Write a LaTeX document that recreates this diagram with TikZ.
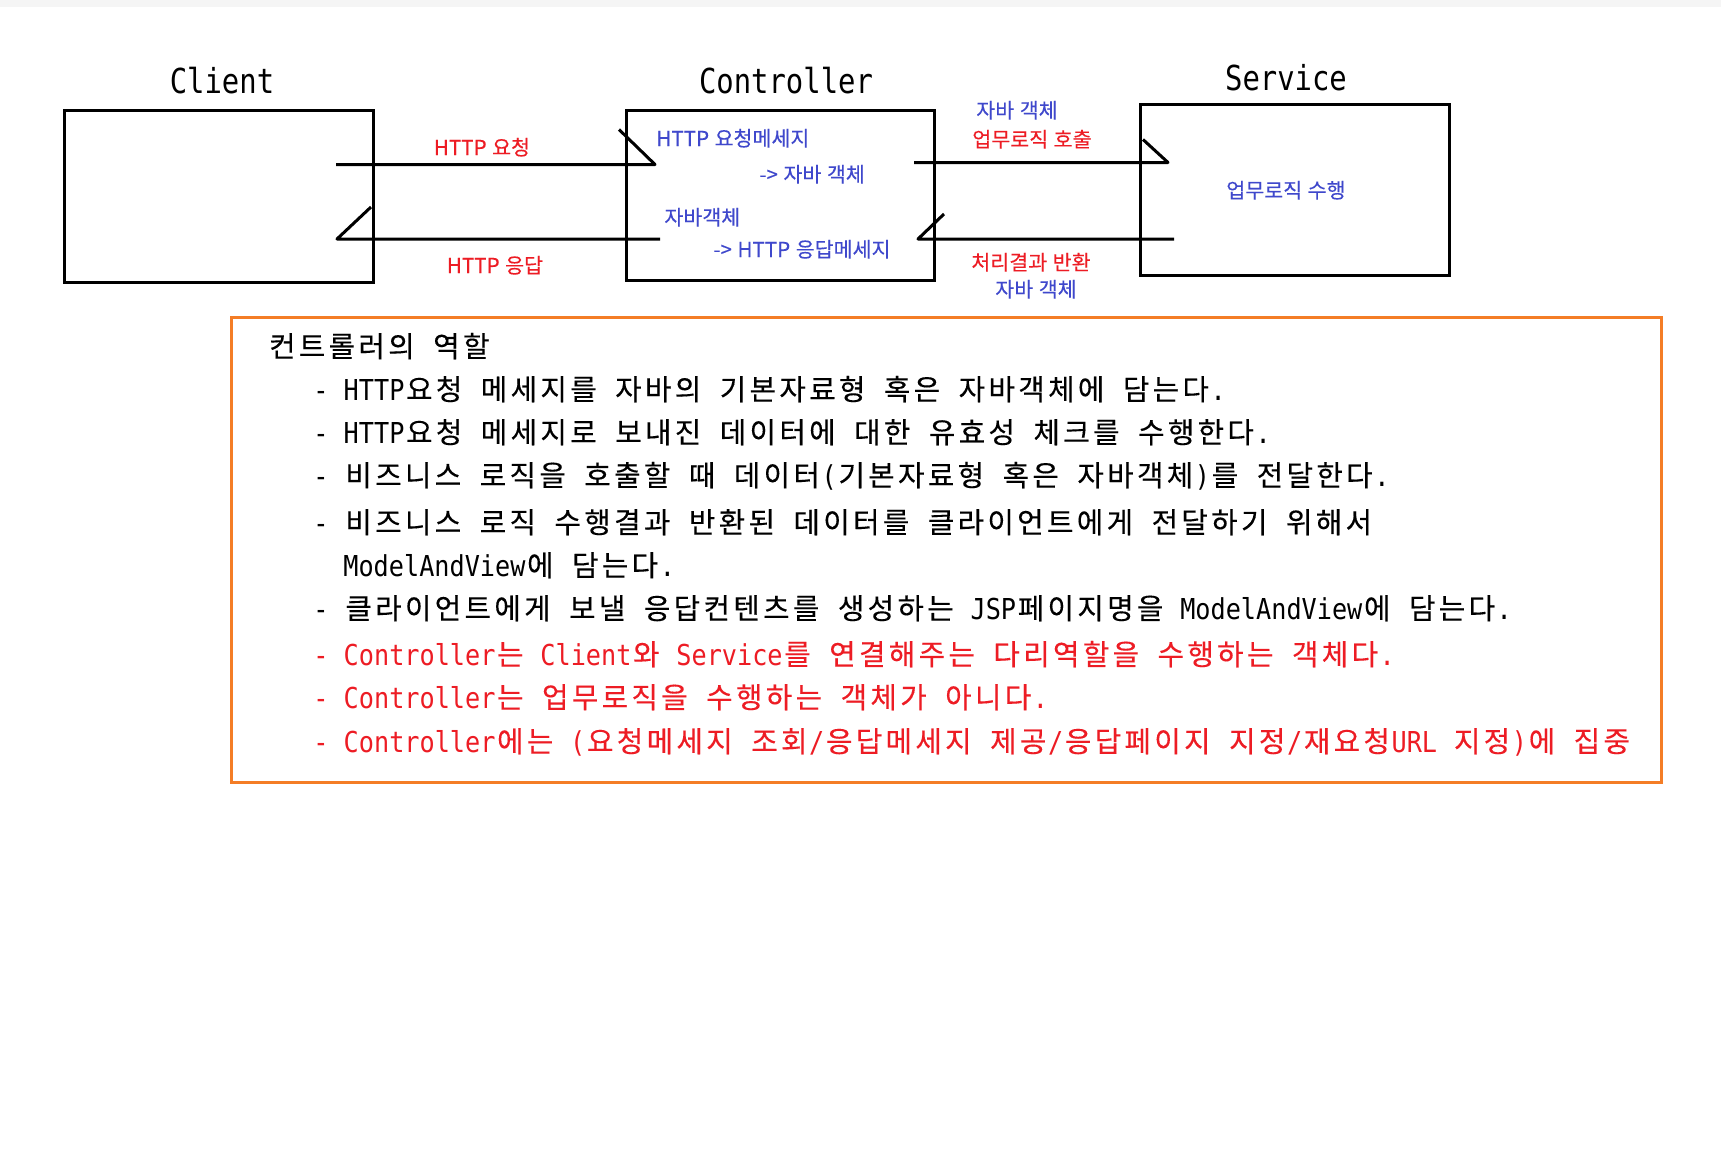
\documentclass[tikz,border=0pt]{standalone}
\usepackage{fontspec}
\newfontfamily\krbody[FakeBold=0.25]{Noto Sans CJK KR}
\newfontfamily\krlab[FakeBold=0.2,WordSpace=1.2]{Noto Sans CJK KR}
\newfontfamily\monof[FakeStretch=0.875]{DejaVu Sans Mono}
\newfontfamily\headmono[FakeStretch=0.84]{DejaVu Sans Mono}
\makeatletter
\def\K#1{{\krbody\fontsize{14.4}{16}\selectfont\K@i#1\@nil}}
\def\K@i#1{\ifx#1\@nil\else\hbox to 14.9pt{\hss#1\hss}\expandafter\K@i\fi}
\makeatother
\newcommand\bodyfont{\monof\fontsize{14.4}{17}\selectfont}
\newcommand\labfont{\krlab\fontsize{10.3}{12}\selectfont}
\newcommand\headfont{\headmono\fontsize{17.2}{20}\selectfont}
\definecolor{pred}{RGB}{237,28,36}
\definecolor{pblue}{RGB}{63,72,204}
\definecolor{porange}{RGB}{244,125,38}
\tikzset{
  box/.style={draw=black,line width=1.5pt,rectangle,inner sep=0pt},
  obox/.style={draw=porange,line width=1.5pt,rectangle,inner sep=0pt},
  head/.style={font=\headfont,anchor=base,inner sep=0pt},
  lab/.style={font=\labfont,inner sep=0pt,anchor=base},
  labw/.style={font=\labfont,inner sep=0pt,anchor=base west},
  body/.style={font=\bodyfont,anchor=base west,inner sep=0pt},
  wire/.style={line width=1.5pt,line join=round},
}
\begin{document}
\begin{tikzpicture}[x=0.5pt,y=-0.5pt]
\useasboundingbox (0,0) rectangle (1721,1168);
\fill[white] (0,0) rectangle (1721,1168);
\fill[black!4] (0,0) rectangle (1721,7);

% boxes
\node[box,minimum width=154.25pt,minimum height=86pt] (client) at (219.2,196) {};
\node[box,minimum width=154pt,minimum height=84.7pt] (ctrl) at (780,195.3) {};
\node[box,minimum width=154.5pt,minimum height=85.5pt] (svc) at (1294.5,189.5) {};

% headings
\node[head] (hclient) at (222,93) {Client};
\node[head] (hctrl) at (786,93.5) {Controller};
\node[head] (hsvc) at (1286,90) {Service};

% connectors
\coordinate (r1s) at (336,164.5);
\coordinate (r1e) at (655,164.5);
\coordinate (p1s) at (660,239);
\coordinate (p1e) at (337,239);
\coordinate (r2s) at (914,162.5);
\coordinate (r2e) at (1168,162.5);
\coordinate (p2s) at (1174,239);
\coordinate (p2e) at (918,239);
\draw[wire] (r1s) -- (r1e) -- ++(-36,-35);
\draw[wire] (p1s) -- (p1e) -- ++(34,-32);
\draw[wire] (r2s) -- (r2e) -- ++(-25,-23);
\draw[wire] (p2s) -- (p2e) -- ++(26,-25);

% connector labels
\node[lab,text=pred] (lreq) at (482,155) {HTTP 요청};
\node[lab,text=pred] (lres) at (495,273) {HTTP 응답};
\node[labw,text=pblue] (c1) at (656,146) {HTTP 요청메세지};
\node[labw,text=pblue] (c2) at (759,182) {-> 자바 객체};
\node[labw,text=pblue] (c3) at (664,225) {자바객체};
\node[labw,text=pblue] (c4) at (713,257) {-> HTTP 응답메세지};
\node[lab,text=pblue] (s1) at (1017,118) {자바 객체};
\node[lab,text=pred] (s2) at (1032,147) {업무로직 호출};
\node[lab,text=pred] (s3) at (1031,270) {처리결과 반환};
\node[lab,text=pblue] (s4) at (1036,297) {자바 객체};
\node[lab,text=pblue] (svctext) at (1286,198) {업무로직 수행};

% role box
\node[obox,minimum width=715pt,minimum height=232.5pt] (role) at (946,549.5) {};
\node[body] (t0) at (267,357) {\K{컨트롤러의} \K{역할}};
\node[body] (t1) at (313,400) {- HTTP\K{요청} \K{메세지를} \K{자바의} \K{기본자료형} \K{혹은} \K{자바객체에} \K{담는다}.};
\node[body] (t2) at (313,443) {- HTTP\K{요청} \K{메세지로} \K{보내진} \K{데이터에} \K{대한} \K{유효성} \K{체크를} \K{수행한다}.};
\node[body] (t3) at (313,486) {- \K{비즈니스} \K{로직을} \K{호출할} \K{때} \K{데이터}(\K{기본자료형} \K{혹은} \K{자바객체})\K{를} \K{전달한다}.};
\node[body] (t4) at (313,533) {- \K{비즈니스} \K{로직} \K{수행결과} \K{반환된} \K{데이터를} \K{클라이언트에게} \K{전달하기} \K{위해서}};
\node[body] (t5) at (343,576) {ModelAndView\K{에} \K{담는다}.};
\node[body] (t6) at (313,619) {- \K{클라이언트에게} \K{보낼} \K{응답컨텐츠를} \K{생성하는} JSP\K{페이지명을} ModelAndView\K{에} \K{담는다}.};
\node[body,text=pred] (t7) at (313,665) {- Controller\K{는} Client\K{와} Service\K{를} \K{연결해주는} \K{다리역할을} \K{수행하는} \K{객체다}.};
\node[body,text=pred] (t8) at (313,708) {- Controller\K{는} \K{업무로직을} \K{수행하는} \K{객체가} \K{아니다}.};
\node[body,text=pred] (t9) at (313,752) {- Controller\K{에는} (\K{요청메세지} \K{조회}/\K{응답메세지} \K{제공}/\K{응답페이지} \K{지정}/\K{재요청}URL \K{지정})\K{에} \K{집중}};
\end{tikzpicture}
\end{document}
